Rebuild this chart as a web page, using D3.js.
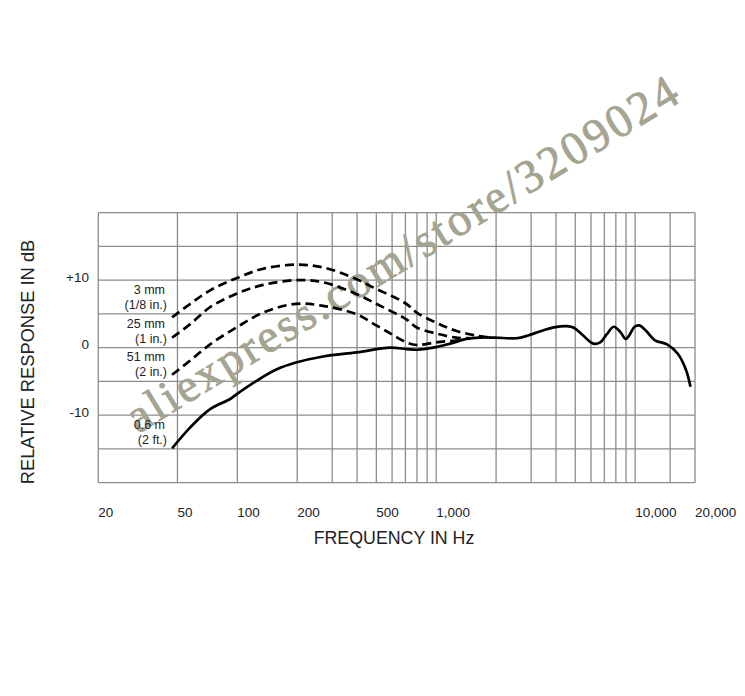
<!DOCTYPE html>
<html>
<head>
<meta charset="utf-8">
<script src="https://cdn.jsdelivr.net/npm/d3@7"></script>
<style>
  body { margin: 0; background: #fff; }
  svg { display: block; }
</style>
</head>
<body>
<div id="chart"></div>
<script>
// frequency axis
const tickFreqs = [20, 50, 100, 200, 500, 1000, 10000, 20000];
const tickLabels = ["20", "50", "100", "200", "500", "1,000", "10,000", "20,000"];
const gridFreqs = [20, 50, 100, 200, 300, 400, 500, 600, 700, 800, 900, 1000,
  2000, 3000, 4000, 5000, 6000, 7000, 8000, 9000, 10000, 15000, 20000];

// level axis (dB)
const dbGrid = [-20, -15, -10, -5, 0, 5, 10, 15, 20];
const dbTicks = [10, 0, -10];
const dbLabels = ["+10", "0", "-10"];

// 0.6 m (2 ft.) - solid
const farFreq = [47, 58, 73, 92, 99, 125, 158, 197, 270, 398, 585, 708, 800, 965, 1173, 1416, 1655, 1973,
  2531, 2895, 3314, 3902, 4534, 4892, 5388, 6164, 6674, 7207, 7800, 8440, 8964, 9326, 9933, 10500,
  11350, 12580, 14480, 16390, 18080, 18980];
const farDb = [-14.9, -11.8, -9.1, -7.6, -6.9, -4.9, -3.2, -2.2, -1.3, -0.7, 0, -0.2, -0.3, 0, 0.6, 1.3, 1.5, 1.5,
  1.4, 1.8, 2.4, 3.0, 3.2, 3.0, 2.0, 0.6, 0.8, 2.0, 3.1, 2.3, 1.3, 1.8, 3.1, 3.3,
  2.5, 1.1, 0.5, -0.9, -3.4, -5.8];

// 3 mm (1/8 in.)
const d3mmFreq = [47, 58, 73, 99, 135, 197, 270, 394, 500, 613, 708, 798, 1000, 1257, 1591, 1880];
const d3mmDb = [4.5, 6.5, 8.5, 10.3, 11.7, 12.3, 11.9, 10.2, 8.7, 7.5, 6.5, 5.2, 3.7, 2.5, 1.8, 1.5];

// 25 mm (1 in.)
const d25mmFreq = [47, 58, 73, 99, 135, 197, 270, 394, 500, 613, 708, 798, 1000, 1257, 1500];
const d25mmDb = [1.5, 3.5, 6.0, 8.0, 9.3, 10.0, 9.7, 8.0, 6.5, 5.2, 4.2, 3.0, 2.1, 1.5, 1.4];

// 51 mm (2 in.)
const d51mmFreq = [47, 58, 73, 99, 135, 197, 270, 394, 500, 613, 708, 798, 1000, 1300];
const d51mmDb = [-4.0, -1.9, 0.5, 3.0, 5.2, 6.5, 6.2, 5.0, 3.3, 1.8, 0.8, 0.4, 0.8, 1.1];

// curve labels and the level (dB) their block is centred on
const curveLabels = [["3 mm", "(1/8 in.)"], ["25 mm", "(1 in.)"], ["51 mm", "(2 in.)"], ["0.6 m", "(2 ft.)"]];
const labelLevels = [7.5, 2.5, -2.5, -12.5];

const width = 745, height = 696;

const x = d3.scaleLog().domain([20, 20000]).range([98.3, 695]);
const y = d3.scaleLinear().domain([-20, 20]).range([482.7, 212.7]);

const svg = d3.select("#chart").append("svg")
    .attr("width", width)
    .attr("height", height)
    .attr("font-family", "'Liberation Sans', Arial, sans-serif");

// grid
const grid = svg.append("g")
    .attr("stroke", "#8c8c8c")
    .attr("stroke-width", 1.3);

grid.selectAll("line.v")
  .data(gridFreqs)
  .join("line")
    .attr("class", "v")
    .attr("x1", d => x(d)).attr("x2", d => x(d))
    .attr("y1", y(20)).attr("y2", y(-20));

grid.selectAll("line.h")
  .data(dbGrid)
  .join("line")
    .attr("class", "h")
    .attr("x1", x(20)).attr("x2", x(20000))
    .attr("y1", d => y(d)).attr("y2", d => y(d));

// tick labels
svg.append("g")
    .attr("font-size", 13.5)
    .attr("fill", "#222")
  .selectAll("text")
  .data(tickFreqs)
  .join("text")
    .attr("x", d => x(d))
    .attr("y", 512)
    .attr("dy", "0.35em")
    .text((d, i) => tickLabels[i]);

svg.append("g")
    .attr("font-size", 13.5)
    .attr("fill", "#222")
    .attr("text-anchor", "end")
  .selectAll("text")
  .data(dbTicks)
  .join("text")
    .attr("x", 89)
    .attr("y", d => y(d) - 3)
    .attr("dy", "0.35em")
    .text((d, i) => dbLabels[i]);

// axis titles
svg.append("text")
    .attr("x", 394)
    .attr("y", 538)
    .attr("dy", "0.35em")
    .attr("text-anchor", "middle")
    .attr("font-size", 17.8)
    .attr("fill", "#222")
    .text("FREQUENCY IN Hz");

svg.append("text")
    .attr("transform", "translate(28,362) rotate(-90)")
    .attr("dy", "0.35em")
    .attr("text-anchor", "middle")
    .attr("font-size", 18.3)
    .attr("fill", "#222")
    .text("RELATIVE RESPONSE IN dB");

// watermark
svg.append("text")
    .attr("transform", "translate(138,434) rotate(-31.5)")
    .attr("font-family", "'Liberation Serif', 'DejaVu Serif', serif")
    .attr("font-size", 47)
    .attr("fill", "#a4a491")
    .attr("stroke", "#a4a491")
    .attr("stroke-width", 0.8)
    .attr("textLength", 638)
    .attr("lengthAdjust", "spacing")
    .text("aliexpress.com/store/3209024");

// curves
const line = d3.line()
    .x(d => x(d[0]))
    .y(d => y(d[1]))
    .curve(d3.curveCatmullRom.alpha(0.5));

const series = [
  {f: d3mmFreq, v: d3mmDb, dash: "9,5"},
  {f: d25mmFreq, v: d25mmDb, dash: "9,5"},
  {f: d51mmFreq, v: d51mmDb, dash: "9,5"},
  {f: farFreq, v: farDb, dash: null}
];

svg.append("g")
    .attr("fill", "none")
    .attr("stroke", "#000")
    .attr("stroke-width", 2.7)
  .selectAll("path")
  .data(series)
  .join("path")
    .attr("stroke-dasharray", d => d.dash)
    .attr("d", d => line(d3.zip(d.f, d.v)));

// curve labels
const lab = svg.append("g")
    .attr("font-family", "'Liberation Sans Narrow', 'Arial Narrow', 'Liberation Sans', sans-serif")
    .attr("font-size", 12.5)
    .attr("fill", "#222")
    .attr("text-anchor", "end")
  .selectAll("text")
  .data(curveLabels)
  .join("text")
    .attr("x", 167)
    .attr("y", (d, i) => y(labelLevels[i]));

lab.append("tspan")
    .attr("x", 165)
    .attr("dy", "-0.25em")
    .text(d => d[0]);
lab.append("tspan")
    .attr("x", 167)
    .attr("dy", "1.2em")
    .text(d => d[1]);
</script>
</body>
</html>
